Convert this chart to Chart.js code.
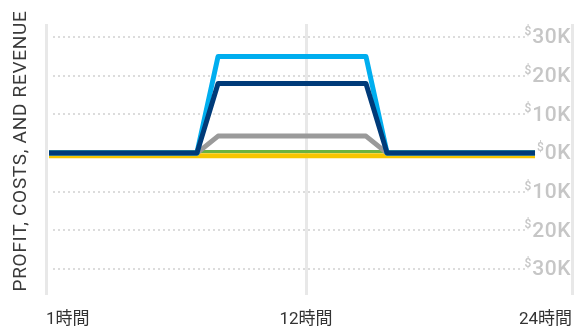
<!DOCTYPE html>
<html>
<head>
<meta charset="utf-8">
<script src="https://cdn.jsdelivr.net/npm/chart.js@4.4.1/dist/chart.umd.min.js"></script>
<style>
  html, body { margin: 0; padding: 0; background: #fff; }
  canvas { display: block; }
</style>
</head>
<body>
<canvas id="plChart" width="574" height="327"></canvas>
<script>
// hourly values, in thousands of dollars
const hours = [1, 2, 3, 4, 5, 6, 7, 8, 9, 10, 11, 12, 13, 14, 15, 16, 17, 18, 19, 20, 21, 22, 23, 24];
const revenue  = [0, 0, 0, 0, 0, 0, 0, 0, 25, 25, 25, 25, 25, 25, 25, 25, 0, 0, 0, 0, 0, 0, 0, 0];
const costs    = [0, 0, 0, 0, 0, 0, 0, 0, 18, 18, 18, 18, 18, 18, 18, 18, 0, 0, 0, 0, 0, 0, 0, 0];
const overhead = [0, 0, 0, 0, 0, 0, 0, 0, 4.4, 4.4, 4.4, 4.4, 4.4, 4.4, 4.4, 4.4, 0, 0, 0, 0, 0, 0, 0, 0];
const margin   = [0.4, 0.4, 0.4, 0.4, 0.4, 0.4, 0.4, 0.4, 0.4, 0.4, 0.4, 0.4, 0.4, 0.4, 0.4, 0.4, 0.4, 0.4, 0.4, 0.4, 0.4, 0.4, 0.4, 0.4];
const profit   = [-0.7, -0.7, -0.7, -0.7, -0.7, -0.7, -0.7, -0.7, -0.7, -0.7, -0.7, -0.7, -0.7, -0.7, -0.7, -0.7, -0.7, -0.7, -0.7, -0.7, -0.7, -0.7, -0.7, -0.7];

const xLabels = ['1時間', '12時間', '24時間'];
const xLabelSlots = [0, 1, 2.023];
const yTicks = [-30, -20, -10, 0, 10, 20, 30];

const LATIN = 'Roboto, "Noto Sans CJK JP", sans-serif';

function toPoints(values) {
  return values.map((v, i) => ({ x: hours[i], y: v }));
}

function lineSet(label, values, color, width) {
  return {
    label: label,
    data: toPoints(values),
    borderColor: color,
    borderWidth: width,
    borderJoinStyle: 'round',
    pointRadius: 0,
    tension: 0,
    fill: false,
    xAxisID: 'x',
    yAxisID: 'y'
  };
}

// dotted guides + dollar labels with a raised "$"
const decorations = {
  id: 'decorations',
  beforeDatasetsDraw(chart) {
    const { ctx, chartArea, scales } = chart;
    ctx.save();
    ctx.strokeStyle = '#dcdcdc';
    ctx.lineWidth = 2;
    ctx.setLineDash([2, 3]);
    yTicks.forEach(v => {
      if (v === 0) return;
      const y = Math.round(scales.y.getPixelForValue(v));
      ctx.beginPath();
      ctx.moveTo(chartArea.left + 7, y);
      ctx.lineTo(chartArea.right - 47, y);
      ctx.stroke();
    });
    ctx.restore();
  },
  afterDraw(chart) {
    const { ctx, chartArea, scales } = chart;
    ctx.save();
    ctx.fillStyle = '#c6c6c6';
    ctx.textAlign = 'right';
    ctx.textBaseline = 'middle';
    const right = chartArea.right - 1;
    yTicks.forEach(v => {
      const y = scales.y.getPixelForValue(v);
      const txt = Math.abs(v) + 'K';
      ctx.font = '500 21px ' + LATIN;
      ctx.letterSpacing = '0.5px';
      ctx.fillText(txt, right, y + 1);
      const w = ctx.measureText(txt).width;
      ctx.font = '500 12px ' + LATIN;
      ctx.letterSpacing = '0px';
      ctx.fillText('$', right - w - 1, y - 5);
    });

    // axis title on the left
    ctx.translate(21.5, 151);
    ctx.rotate(-Math.PI / 2);
    ctx.textAlign = 'center';
    ctx.fillStyle = '#3a3a3a';
    ctx.font = '19px ' + LATIN;
    ctx.letterSpacing = '0.7px';
    ctx.fillText('PROFIT, COSTS, AND REVENUE', 0, 0);
    ctx.restore();
  }
};

new Chart(document.getElementById('plChart'), {
  type: 'line',
  data: {
    datasets: [
      lineSet('Costs', costs, '#003b79', 5),
      lineSet('Revenue', revenue, '#00aeef', 5),
      lineSet('Overhead', overhead, '#9a9a9a', 5),
      lineSet('Margin', margin, '#6cb33f', 3),
      lineSet('Profit', profit, '#f6c500', 5)
    ]
  },
  options: {
    responsive: false,
    devicePixelRatio: 1,
    animation: false,
    layout: { padding: { left: 46, right: 2, top: 24, bottom: 0 } },
    plugins: {
      legend: { display: false },
      tooltip: { enabled: false }
    },
    scales: {
      x: {
        type: 'linear',
        display: false,
        min: 0.858,
        max: 25.75
      },
      xLabels: {
        type: 'linear',
        position: 'bottom',
        min: 0,
        max: xLabelSlots[xLabelSlots.length - 1],
        grid: {
          color: '#e8e8e8',
          lineWidth: 3,
          drawTicks: true,
          tickLength: 15,
          tickColor: 'rgba(0,0,0,0)'
        },
        border: { display: false },
        afterBuildTicks(scale) {
          scale.ticks = xLabelSlots.map(v => ({ value: v }));
        },
        afterFit(scale) {
          scale.height = 32;
        },
        ticks: {
          align: 'inner',
          maxRotation: 0,
          padding: 0,
          color: '#333',
          font: { family: LATIN, size: 17 },
          callback: (v, i) => xLabels[i]
        }
      },
      y: {
        type: 'linear',
        position: 'right',
        min: -36.7,
        max: 33.4,
        grid: { display: false },
        border: { display: false },
        ticks: { display: false },
        afterBuildTicks(scale) {
          scale.ticks = yTicks.map(v => ({ value: v }));
        },
        afterFit(scale) {
          scale.width = 0;
        }
      }
    }
  },
  plugins: [decorations]
});
</script>
</body>
</html>
